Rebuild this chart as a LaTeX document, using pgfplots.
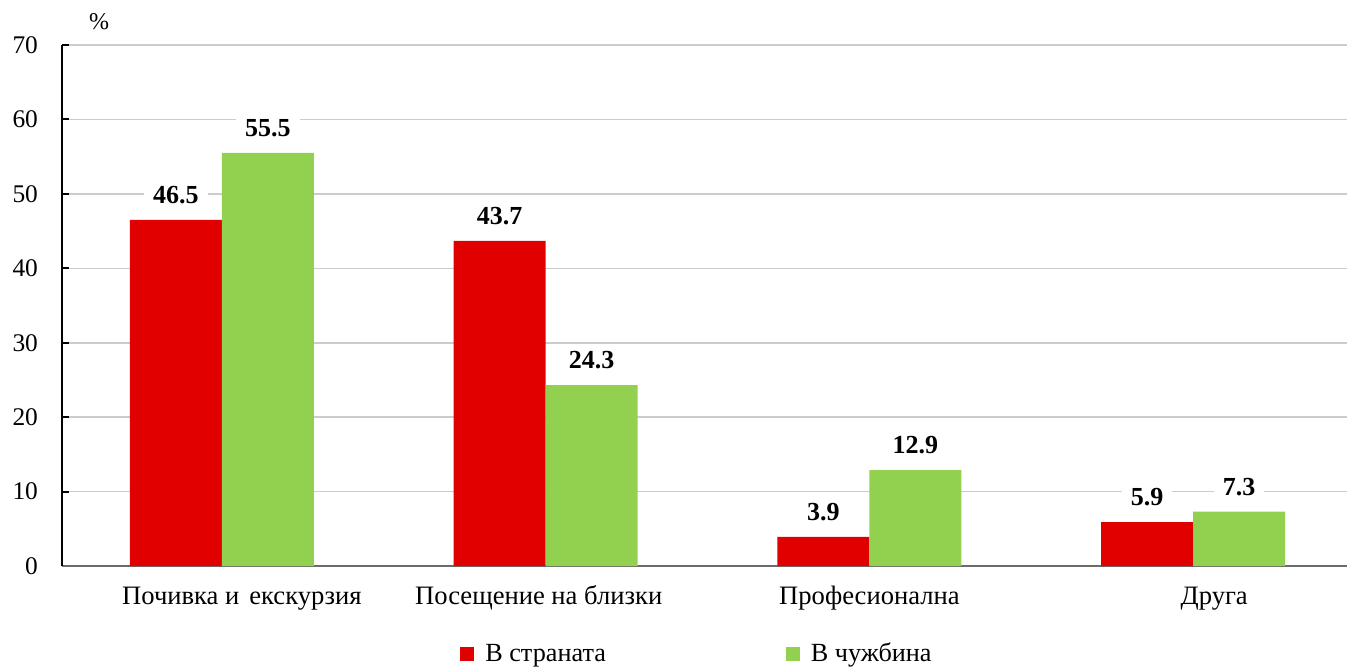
\documentclass[border=0pt]{standalone}
\usepackage{fontspec}
\setmainfont{Liberation Serif}
\usepackage{pgfplots}
\pgfplotsset{compat=1.18}
\definecolor{cred}{HTML}{E00000}
\definecolor{cgreen}{HTML}{92D050}
\begin{document}
\begin{tikzpicture}
\useasboundingbox (-31pt,-50pt) rectangle (642.5pt,283pt);
\begin{axis}[
  at={(0,0)}, anchor=south west,
  scale only axis,
  width=642.5pt, height=260.5pt,
  ybar=0pt, bar width=46pt,
  xmin=-0.494, xmax=3.475,
  ymin=0, ymax=70,
  ytick={0,10,...,70},
  xtick=data,
  xticklabels={\hspace*{20pt}Почивка и\hspace{5pt}екскурзия,Посещение на близки\hspace*{7pt},Професионална,\hspace*{21pt}Друга},
  axis lines*=left,
  x axis line style={draw=gray!85!black, line width=1pt},
  y axis line style={draw=black, line width=1pt},
  tick align=inside,
  major tick length=3.5pt,
  ytick style={draw=black, line width=1pt},
  xtick style={draw=none},
  ymajorgrids,
  grid style={draw=gray!40, line width=0.8pt},
  /pgf/number format/assume math mode=true,
  yticklabel style={font=\fontsize{12.7}{15}\selectfont, anchor=east, xshift=-8.5pt},
  xticklabel style={font=\fontsize{13.3}{15}\selectfont, anchor=base, yshift=-19pt},
  nodes near coords,
  nodes near coords style={font=\bfseries\fontsize{13}{15}\selectfont, fill=white, inner xsep=4.5pt, inner ysep=1pt, anchor=center, yshift=12.5pt,
    /pgf/number format/.cd, fixed, fixed zerofill, precision=1, assume math mode=true},
  legend columns=2,
  legend style={at={(rel axis cs:0.3097,-0.169)}, anchor=west, draw=none, fill=none, inner sep=0pt,
    font=\fontsize{13.1}{15}\selectfont,
    /tikz/every odd column/.append style={column sep=3.5pt},
    /tikz/every even column/.append style={column sep=88pt}},
  sq/.style={legend image code/.code={\fill[##1] (0pt,-3.3pt) rectangle (7pt,3.3pt);}},
  clip=false,
]
\addplot[fill=cred, draw=none, sq] coordinates {(0,46.5) (1,43.7) (2,3.9) (3,5.9)};
\addplot[fill=cgreen, draw=none, sq] coordinates {(0,55.5) (1,24.3) (2,12.9) (3,7.3)};
\legend{В страната, В чужбина}
\node[font=\fontsize{12}{14}\selectfont] at (rel axis cs:0.0288,1.044) {\%};
\end{axis}
\end{tikzpicture}
\end{document}
